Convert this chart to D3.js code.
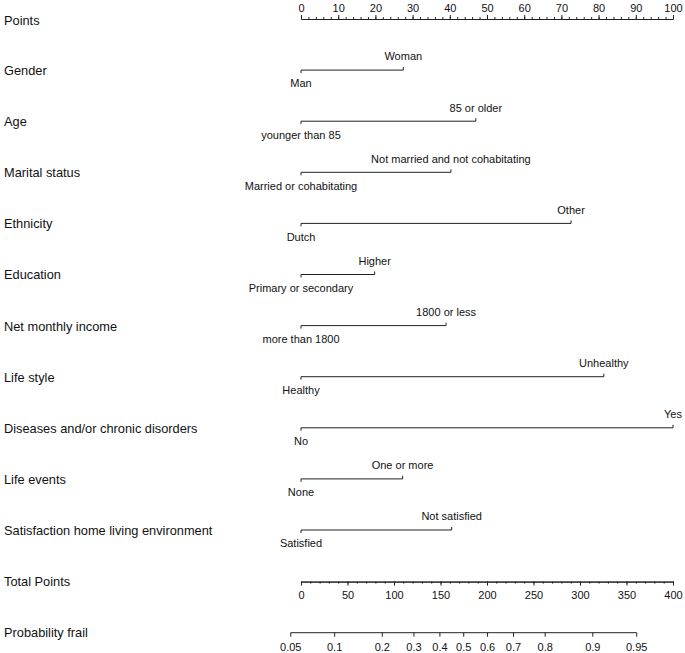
<!DOCTYPE html>
<html><head><meta charset="utf-8">
<script src="https://cdn.jsdelivr.net/npm/d3@7"></script>
<style>
html,body{margin:0;padding:0;background:#fff;}
text{font-family:"Liberation Sans",Arial,Helvetica,sans-serif;fill:#111;}
</style></head>
<body><svg id="c" width="685" height="653"></svg>
<script>
// ---- data ----
const variables = ["Gender","Age","Marital status","Ethnicity","Education","Net monthly income","Life style","Diseases and/or chronic disorders","Life events","Satisfaction home living environment"];
const levelLow  = ["Man","younger than 85","Married or cohabitating","Dutch","Primary or secondary","more than 1800","Healthy","No","None","Satisfied"];
const levelHigh = ["Woman","85 or older","Not married and not cohabitating","Other","Higher","1800 or less","Unhealthy","Yes","One or more","Not satisfied"];
const pointsHigh = [27.5,47.0,40.3,72.6,19.8,39.0,81.4,100,27.3,40.5];
const pointsTicks = [0,10,20,30,40,50,60,70,80,90,100];
const totalTicks = [0,50,100,150,200,250,300,350,400];
const probTicks = [0.05,0.1,0.2,0.3,0.4,0.5,0.6,0.7,0.8,0.9,0.95];
const lpIntercept = -2.770;   // linear predictor at 0 total points
const lpSlope = 0.01583;      // per total point

// ---- layout ----
const svg = d3.select("#c");
const x0 = 301, x1 = 673;
const rowY0 = 19, rowStep = 51.1;
const xPts = d3.scaleLinear().domain([0,100]).range([x0,x1]);
const xTot = d3.scaleLinear().domain([0,400]).range([x0,x1]);
const logit = p => Math.log(p/(1-p));
const probToTotal = p => (logit(p) - lpIntercept)/lpSlope;
const xProb = p => xTot(probToTotal(p));
const stroke = "#222";
const fs = 12.8, tfs = 11;

function rowLabel(txt, y){
  svg.append("text").attr("x",4).attr("y",y).attr("dy","0.35em")
    .style("font-size",fs+"px").text(txt);
}

// Points axis
const yP = rowY0;
rowLabel("Points", yP+1.5);
const gP = svg.append("g").attr("transform",`translate(0,${yP})`);
gP.call(d3.axisTop(xPts).tickValues(d3.range(0,101,2)).tickSize(2).tickSizeOuter(0).tickFormat(""));
gP.append("g").call(d3.axisTop(xPts).tickValues(pointsTicks).tickSize(4).tickSizeOuter(0).tickPadding(3.5));
gP.selectAll("path,line").attr("stroke",stroke);
gP.selectAll("text").style("font-size",tfs+"px").attr("fill","#111");

// Variables
variables.forEach((v,i)=>{
  const y = rowY0 + rowStep*(i+1);
  rowLabel(v, y+0.5);
  const g = svg.append("g");
  const xa = xPts(0), xb = xPts(pointsHigh[i]);
  g.append("line").attr("x1",xa).attr("x2",xb).attr("y1",y).attr("y2",y).attr("stroke",stroke);
  g.append("line").attr("x1",xa).attr("x2",xa).attr("y1",y).attr("y2",y+3).attr("stroke",stroke);
  g.append("line").attr("x1",xb).attr("x2",xb).attr("y1",y).attr("y2",y-3).attr("stroke",stroke);
  g.append("text").attr("x",xa).attr("y",y+13.5).attr("dy","0.35em").attr("text-anchor","middle")
    .style("font-size",tfs+"px").text(levelLow[i]);
  g.append("text").attr("x",xb).attr("y",y-13.5).attr("dy","0.35em").attr("text-anchor","middle")
    .style("font-size",tfs+"px").text(levelHigh[i]);
});

// Total points axis
const yT = rowY0 + rowStep*11 + 0.5;
rowLabel("Total Points", yT);
const gT = svg.append("g").attr("transform",`translate(0,${yT})`);
gT.call(d3.axisBottom(xTot).tickValues(d3.range(0,401,10)).tickSize(2).tickSizeOuter(0).tickFormat(""));
gT.append("g").call(d3.axisBottom(xTot).tickValues(totalTicks).tickSize(4).tickSizeOuter(0).tickPadding(6));
gT.selectAll("path,line").attr("stroke",stroke);
gT.selectAll("text").style("font-size",tfs+"px").attr("fill","#111");

// Probability axis
const yPr = rowY0 + rowStep*12;
rowLabel("Probability frail", yPr);
const gPr = svg.append("g").attr("transform",`translate(0,${yPr})`);
const pxs = probTicks.map(xProb);
gPr.append("line").attr("x1",pxs[0]).attr("x2",pxs[pxs.length-1]).attr("y1",0.5).attr("y2",0.5).attr("stroke",stroke);
probTicks.forEach(p=>{
  const xx = xProb(p);
  gPr.append("line").attr("x1",xx).attr("x2",xx).attr("y1",0.5).attr("y2",4.5).attr("stroke",stroke);
  gPr.append("text").attr("x",xx).attr("y",15).attr("dy","0.35em").attr("text-anchor","middle")
    .style("font-size",tfs+"px").text(String(p));
});
</script></body></html>
